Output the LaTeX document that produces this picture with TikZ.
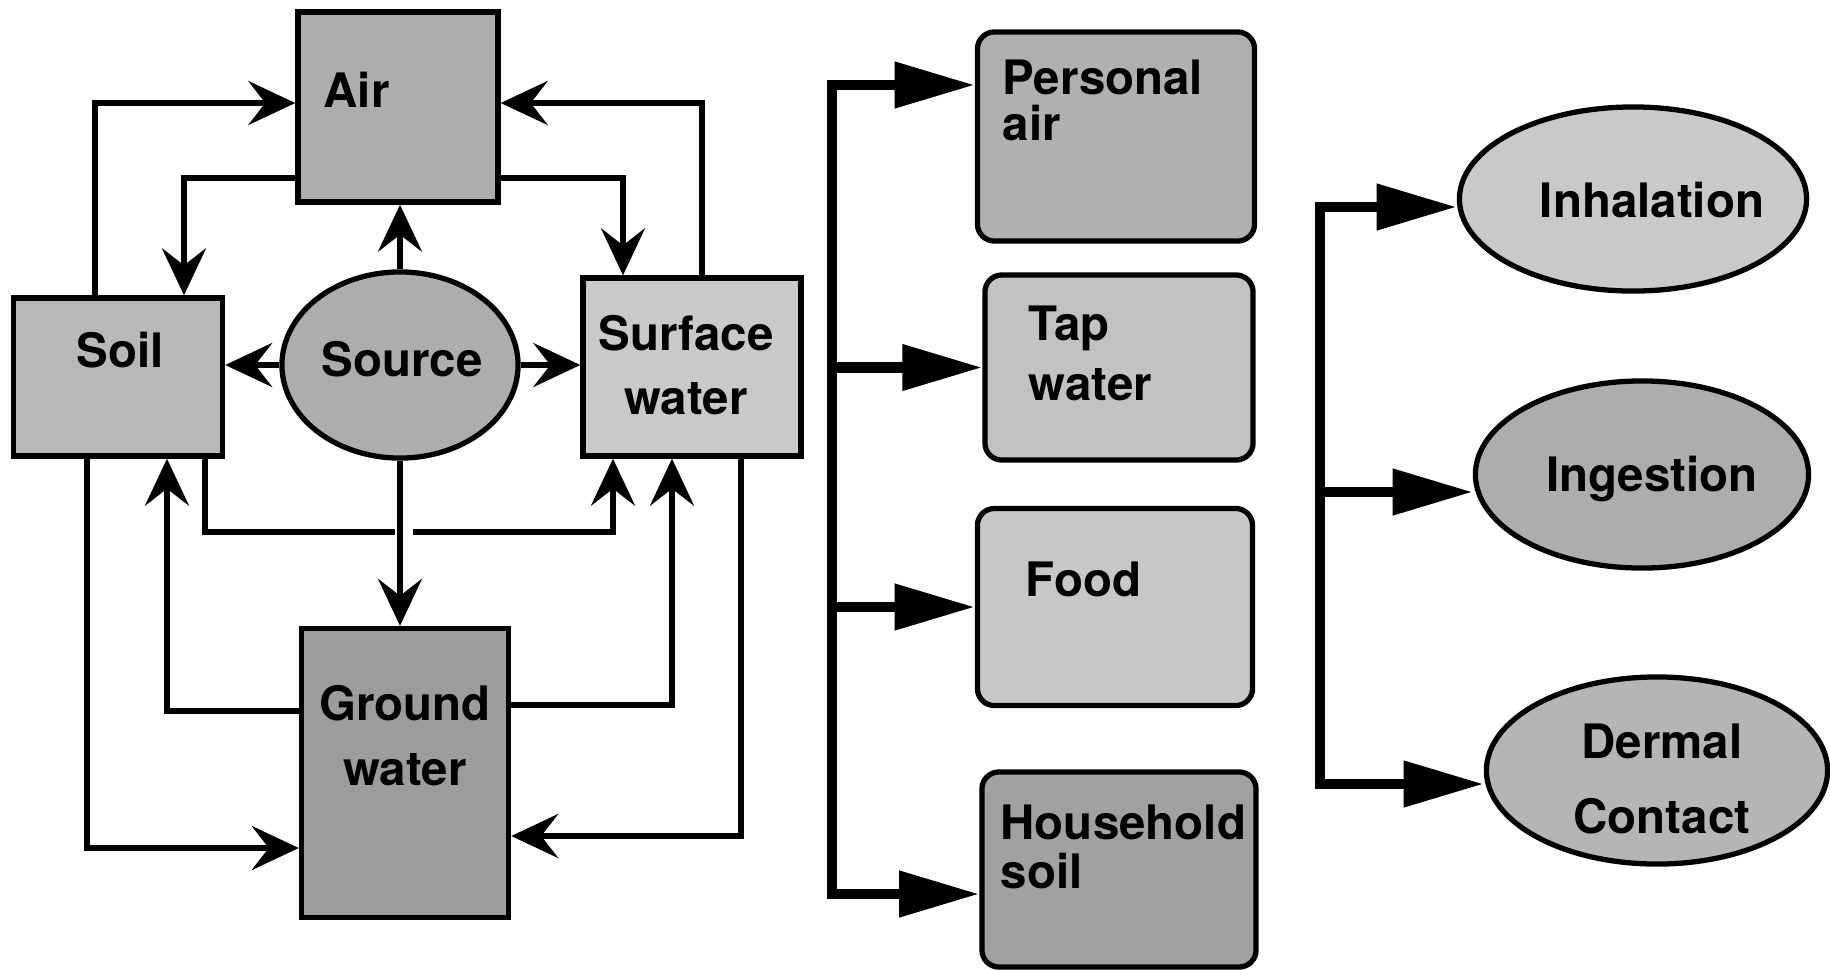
\documentclass[tikz,border=0pt]{standalone}
\usepackage{fontspec}
\newfontfamily\heros{TeX Gyre Heros}
\usetikzlibrary{arrows.meta,shapes.geometric}
\tikzset{
  medium/.style 2 args={draw, line width=1.5pt, minimum width=#1, minimum height=#2, inner sep=0pt},
  carrier/.style 2 args={medium={#1}{#2}, rounded corners=0.17cm},
  route/.style 2 args={ellipse, draw, line width=1.5pt, minimum width=#1, minimum height=#2, inner sep=0pt},
  lbl/.style={font=\heros\bfseries\fontsize{13.5}{15}\selectfont, inner sep=0pt},
  flow/.style={line width=1.45pt, -{Stealth[length=4.7mm, width=4.4mm, inset=1.7mm]}},
  bus/.style={line width=3pt},
  hit/.style={-{Triangle[length=8mm, width=4.4mm]}},
}
\begin{document}
\begin{tikzpicture}[x=0.01cm, y=-0.01cm]
    \useasboundingbox (0,0) rectangle (1830,969);
    % environmental media
    \node[medium={2cm}{1.9cm}, fill=black!32] (air) at (398,107) {};
    \node[medium={2.09cm}{1.58cm}, fill=black!28] (soil) at (118,377) {};
    \node[route={2.36cm}{1.86cm}, fill=black!32] (src) at (400,365) {};
    \node[medium={2.18cm}{1.78cm}, fill=black!21] (surf) at (692,367) {};
    \node[medium={2.07cm}{2.89cm}, fill=black!39] (gw) at (405,773) {};
    \node[lbl, anchor=north west] (airtxt) at (323,71) {Air};
    \node[lbl, anchor=north west] (soiltxt) at (76,331) {Soil};
    \node[lbl, anchor=north] (srctxt) at (402,341) {Source};
    \node[lbl, anchor=north, align=center] (surftxt) at (686,315) {Surface\\[3pt]water};
    \node[lbl, anchor=north, align=center] (gwtxt) at (405,685) {Ground\\[3.5pt]water};
    % exposure media
    \node[carrier={2.77cm}{2.09cm}, fill=black!31] (pa) at (1116,136.5) {};
    \node[carrier={2.68cm}{1.85cm}, fill=black!24] (tw) at (1119,367.5) {};
    \node[carrier={2.75cm}{1.97cm}, fill=black!22] (fd) at (1115,607) {};
    \node[carrier={2.74cm}{1.95cm}, fill=black!37] (hs) at (1119,869.5) {};
    \node[lbl, anchor=north west, align=left] (patxt) at (1002,59) {Personal\\[-2pt]air};
    \node[lbl, anchor=north west, align=left] (twtxt) at (1028,305) {Tap\\[2pt]water};
    \node[lbl, anchor=north west] (fdtxt) at (1025,561) {Food};
    \node[lbl, anchor=north west, align=left] (hstxt) at (1000,804) {Household\\[-1pt]soil};
    % routes
    \node[route={3.47cm}{1.84cm}, fill=black!21] (inh) at (1633,199) {};
    \node[route={3.33cm}{1.87cm}, fill=black!32] (ing) at (1642,474.5) {};
    \node[route={3.41cm}{1.87cm}, fill=black!29] (dc) at (1657,770.5) {};
    \node[lbl, anchor=north] (inhtxt) at (1652,181) {Inhalation};
    \node[lbl, anchor=north] (ingtxt) at (1652,455) {Ingestion};
    \node[lbl, anchor=north, align=center] (dctxt) at (1662,723) {Dermal\\[6.5pt]Contact};

    % transfers between media
    \draw[flow] (soil.north -| 95,0) |- (air.west |- 0,103);
    \draw[flow] (surf.north -| 702,0) |- (air.east |- 0,103);
    \draw[flow] (air.west |- 0,178) -| (soil.north -| 184,0);
    \draw[flow] (air.east |- 0,178) -| (surf.north -| 623,0);
    \draw[flow] (src.north) -- (src.north |- air.south);
    \draw[flow] (src.west) -- (src.west -| soil.east);
    \draw[flow] (src.east) -- (src.east -| surf.west);
    \draw[flow] (src.south) -- (src.south |- gw.north);
    \coordinate (gapl) at (395,532);
    \coordinate (gapr) at (413,532);
    \draw[line width=1.45pt] (soil.south -| 205,0) |- (gapl);
    \draw[flow] (gapr) -| (surf.south -| 613,0);
    \draw[flow] (gw.west |- 0,711) -| (soil.south -| 167,0);
    \draw[flow] (soil.south -| 87,0) |- (gw.west |- 0,848);
    \draw[flow] (gw.east |- 0,705) -| (surf.south -| 672,0);
    \draw[flow] (surf.south -| 741,0) |- (gw.east |- 0,836);

    % to exposure media
    \coordinate (b1top) at (832,85);
    \coordinate (b1bot) at (832,894);
    \draw[bus, {Triangle[length=8mm, width=4.4mm]}-{Triangle[length=8mm, width=4.4mm]}]
        (b1top -| pa.west) -- (b1top) -- (b1bot) -- (b1bot -| hs.west);
    \draw[bus, hit] (b1top |- tw.west) -- (tw.west);
    \draw[bus, hit] (b1top |- fd.west) -- (fd.west);

    % to exposure routes
    \coordinate (b2top) at (1320,207);
    \coordinate (b2bot) at (1320,784);
    \draw[bus, {Triangle[length=8mm, width=4.4mm]}-{Triangle[length=8mm, width=4.4mm]}]
        (b2top -| inh.west) -- (b2top) -- (b2bot) -- (b2bot -| dc.west);
    \draw[bus, hit] (b2top |- 0,492) -- (ing.west |- 0,492);
\end{tikzpicture}
\end{document}
